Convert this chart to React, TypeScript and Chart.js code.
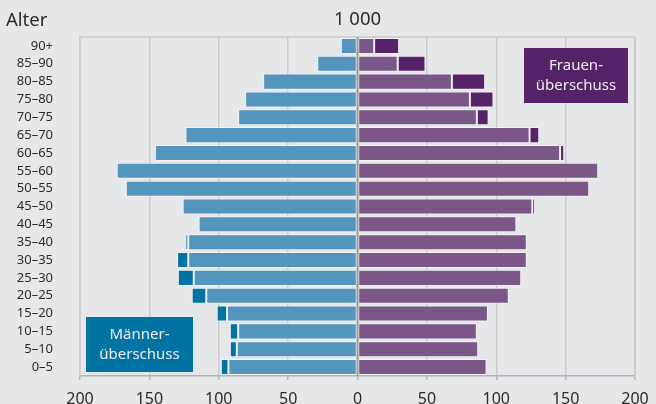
import React, { useEffect, useRef } from "react";
import { Chart, registerables } from "chart.js";

Chart.register(...registerables);

const ageGroups = [
  "90+", "85–90", "80–85", "75–80", "70–75", "65–70", "60–65", "55–60", "50–55",
  "45–50", "40–45", "35–40", "30–35", "25–30", "20–25", "15–20", "10–15", "5–10", "0–5",
];
// Tausend Personen
const men = [12, 29, 68, 81, 86, 124, 146, 173.5, 168, 126, 115, 124, 130, 129.5, 119.5, 101.5, 92, 92, 98.5];
const women = [30, 49, 92, 98, 94.5, 131, 149, 173.5, 167, 128, 114.5, 122, 122, 118, 109, 94, 86, 87, 93];
const xTicks = [-200, -150, -100, -50, 0, 50, 100, 150, 200];

const BG = "#e6e7e9";
const FONT = "'Noto Sans', 'Open Sans', sans-serif";

export default function App() {
  const ref = useRef<HTMLCanvasElement | null>(null);

  useEffect(() => {
    document.body.style.margin = "0";
    const base = men.map((m, i) => Math.min(m, women[i]));
    const menExcess = men.map((m, i) => Math.max(0, m - women[i]));
    const womenExcess = women.map((w, i) => Math.max(0, w - men[i]));

    const overlay = {
      id: "overlay",
      afterDatasetsDraw(chart: any) {
        const { ctx, chartArea, scales } = chart;
        const x0 = scales.x.getPixelForValue(0);
        ctx.save();
        ctx.strokeStyle = "#9a9ea3";
        ctx.lineWidth = 2;
        ctx.beginPath();
        ctx.moveTo(x0, chartArea.top);
        ctx.lineTo(x0, chartArea.bottom);
        ctx.stroke();

        ctx.fillStyle = "#2b2b2b";
        ctx.font = `18.5px ${FONT}`;
        ctx.textBaseline = "middle";
        ctx.textAlign = "left";
        ctx.fillText("Alter", 6, 21);
        ctx.textAlign = "center";
        ctx.fillText("1 000", x0, 20);

        const drawBox = (x: number, y: number, w: number, h: number, color: string, lines: string[]) => {
          ctx.fillStyle = color;
          ctx.fillRect(x, y, w, h);
          ctx.fillStyle = "#f2eef5";
          ctx.font = `15px ${FONT}`;
          ctx.textAlign = "center";
          ctx.textBaseline = "middle";
          lines.forEach((t, i) => ctx.fillText(t, x + w / 2, y + h / 2 + (i - 0.5) * 20));
        };
        drawBox(chartArea.right - 111, chartArea.top + 11, 104, 55, "#562268", ["Frauen-", "überschuss"]);
        drawBox(chartArea.left + 6, chartArea.bottom - 59, 107, 55, "#0073a3", ["Männer-", "überschuss"]);
        ctx.restore();
      },
    };

    const common = { barPercentage: 0.9, categoryPercentage: 1, borderWidth: 1, borderColor: "rgba(255,255,255,0.55)", borderSkipped: false as any };

    const chart = new Chart(ref.current!, {
      type: "bar",
      data: {
        labels: ageGroups,
        datasets: [
          { label: "Männer", data: base.map((v) => -v), backgroundColor: "#5495bd", ...common },
          { label: "Männerüberschuss", data: menExcess.map((v) => -v), backgroundColor: "#0073a3", ...common },
          { label: "Frauen", data: base, backgroundColor: "#7a5689", ...common },
          { label: "Frauenüberschuss", data: womenExcess, backgroundColor: "#562268", ...common },
        ],
      },
      options: {
        indexAxis: "y",
        animation: false,
        responsive: false,
        maintainAspectRatio: false,
        layout: { padding: { top: 37, right: 21, left: 0, bottom: 0 } },
        plugins: { legend: { display: false }, tooltip: { enabled: false }, title: { display: false } },
        scales: {
          x: {
            type: "linear",
            min: -200,
            max: 200,
            stacked: true,
            afterBuildTicks: (axis: any) => {
              axis.ticks = xTicks.map((v) => ({ value: v }));
            },
            afterFit: (axis: any) => {
              axis.height = 28;
              axis.paddingLeft = 0;
              axis.paddingRight = 0;
            },
            ticks: {
              color: "#2b2b2b",
              font: { size: 16, family: FONT },
              padding: 10,
              callback: (v: any) => String(Math.abs(Number(v))),
            },
            grid: {
              color: "#c9cacc",
              lineWidth: 1.5,
              drawTicks: true,
              tickLength: 4,
              tickColor: "#b0b2b5",
            },
            border: { display: true, color: "#b0b2b5", width: 1.5 },
          },
          y: {
            stacked: true,
            afterFit: (axis: any) => {
              axis.width = 80;
              axis.paddingTop = 0;
              axis.paddingBottom = 0;
            },
            ticks: {
              color: "#2b2b2b",
              font: { size: 13, family: FONT },
              padding: 27,
              autoSkip: false,
            },
            grid: { display: false, drawTicks: false },
            border: { display: true, color: "#c9cacc", width: 1.5 },
          },
        },
      },
      plugins: [
        overlay,
        {
          id: "frame",
          beforeDatasetsDraw(chart: any) {
            const { ctx, chartArea } = chart;
            ctx.save();
            ctx.strokeStyle = "#c9cacc";
            ctx.lineWidth = 1.5;
            ctx.beginPath();
            ctx.moveTo(chartArea.left, chartArea.top);
            ctx.lineTo(chartArea.right, chartArea.top);
            ctx.lineTo(chartArea.right, chartArea.bottom);
            ctx.stroke();
            ctx.restore();
          },
        },
      ],
    } as any);
    return () => chart.destroy();
  }, []);

  return (
    <div style={{ position: "fixed", left: 0, top: 0, width: 656, height: 404, background: BG }}>
      <canvas ref={ref} width={656} height={404} style={{ width: 656, height: 404, display: "block" }} />
    </div>
  );
}
